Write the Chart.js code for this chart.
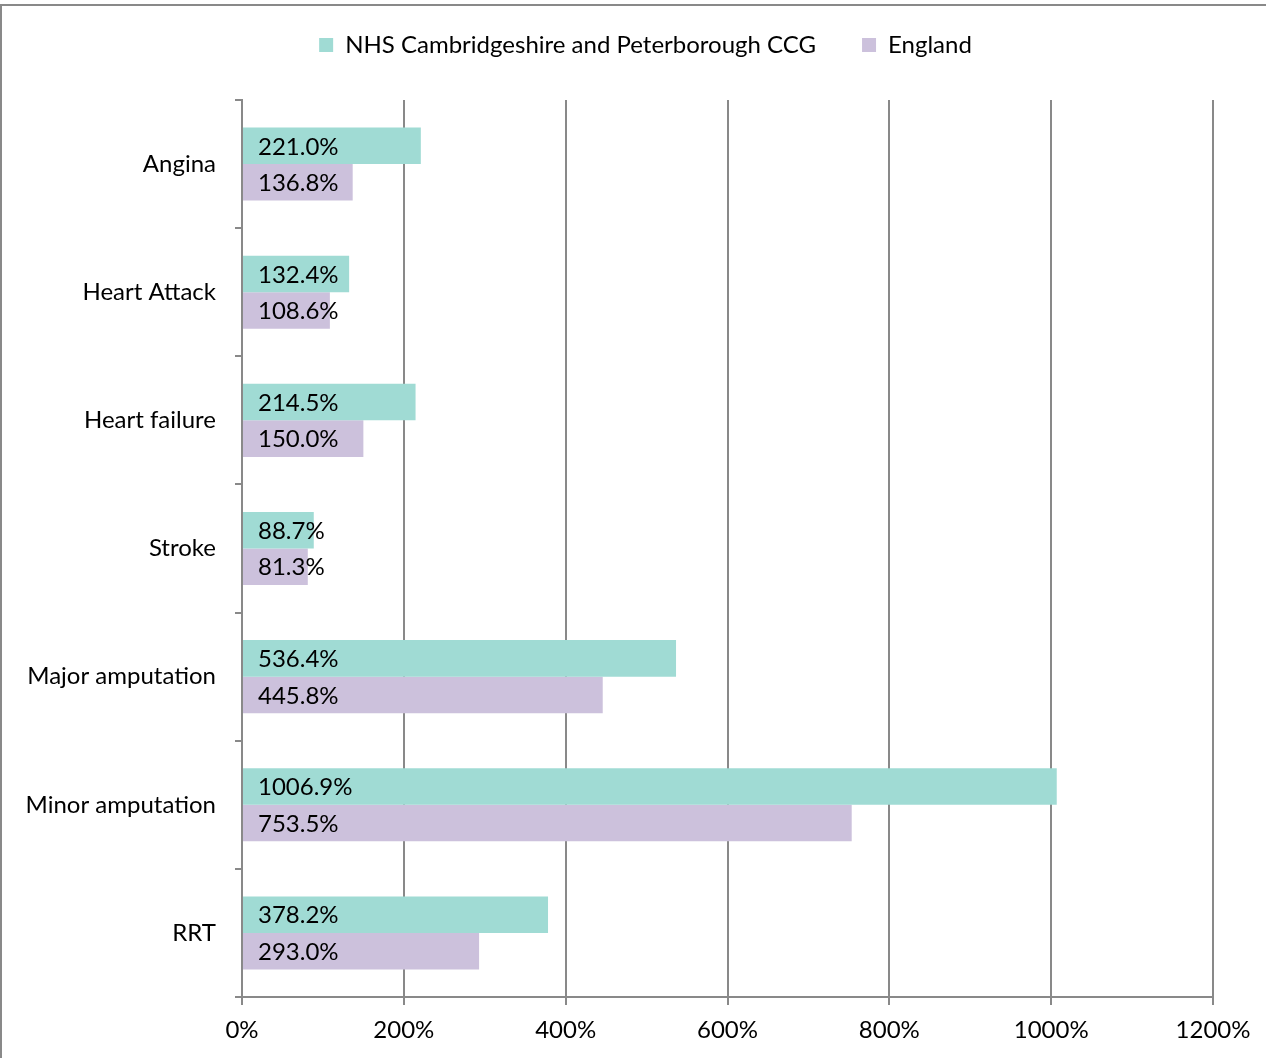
<!DOCTYPE html>
<html>
<head>
<meta charset="utf-8">
<script src="https://cdn.jsdelivr.net/npm/chart.js@4"></script>
<style>
  body { margin: 0; background: #fff; overflow: hidden; }
  #wrap { width: 1266px; height: 1058px; }
</style>
</head>
<body>
<div id="wrap"><canvas id="chart_canvas" width="1266" height="1058"></canvas></div>
<script>
// chart data
const categories = ['Angina', 'Heart Attack', 'Heart failure', 'Stroke', 'Major amputation', 'Minor amputation', 'RRT'];
const ccg_values = [221.0, 132.4, 214.5, 88.7, 536.4, 1006.9, 378.2];
const england_values = [136.8, 108.6, 150.0, 81.3, 445.8, 753.5, 293.0];
const series_names = ['NHS Cambridgeshire and Peterborough CCG', 'England'];

const font_family = 'Lato';
const grid_color = '#898989';

// frame round the chart (only top and left show in the picture)
const frame_plugin = {
    id: 'frame',
    beforeDraw(chart) {
        const ctx = chart.ctx;
        ctx.save();
        ctx.strokeStyle = grid_color;
        ctx.lineWidth = 2;
        ctx.strokeRect(1, 5, 1400, 1200);
        ctx.restore();
    }
};

// value labels near the base of each bar
const value_labels = {
    id: 'value_labels',
    afterDatasetsDraw(chart) {
        const ctx = chart.ctx;
        ctx.save();
        ctx.font = '24px ' + font_family;
        ctx.fillStyle = '#000';
        ctx.textBaseline = 'middle';
        ctx.textAlign = 'left';
        chart.data.datasets.forEach((ds, di) => {
            const meta = chart.getDatasetMeta(di);
            meta.data.forEach((bar, i) => {
                ctx.fillText(ds.data[i].toFixed(1) + '%', bar.base + 15, bar.y + 1);
            });
        });
        ctx.restore();
    }
};

// legend height fixed so the plot starts where it does in the picture,
// and the legend nudged right to sit where the original one is
const legend_fix = {
    id: 'legend_fix',
    beforeInit(chart) {
        const orig_fit = chart.legend.fit;
        chart.legend.fit = function () {
            orig_fit.call(this);
            this.height = 113;
        };
    },
    afterLayout(chart) {
        chart.legend.left += 39;
        chart.legend.right += 39;
    }
};

new Chart(document.getElementById('chart_canvas'), {
    type: 'bar',
    data: {
        labels: categories,
        datasets: [
            {
                label: series_names[0],
                data: ccg_values,
                backgroundColor: '#a0dbd4',
                borderWidth: 0
            },
            {
                label: series_names[1],
                data: england_values,
                backgroundColor: '#ccc1dc',
                borderWidth: 0
            }
        ]
    },
    options: {
        indexAxis: 'y',
        responsive: false,
        animation: false,
        devicePixelRatio: 1,
        categoryPercentage: 0.57,
        barPercentage: 1,
        layout: {padding: {top: -13, right: 53, left: 0, bottom: 0}},
        plugins: {
            legend: {
                position: 'top',
                labels: {
                    boxWidth: 14,
                    boxHeight: 14,
                    padding: 46,
                    color: '#000',
                    font: {family: font_family, size: 24}
                }
            },
            tooltip: {enabled: false}
        },
        scales: {
            x: {
                min: 0,
                max: 1200,
                ticks: {
                    stepSize: 200,
                    color: '#000',
                    padding: 11,
                    font: {family: font_family, size: 24},
                    callback: v => v + '%'
                },
                grid: {color: grid_color, lineWidth: 2, tickLength: 8},
                border: {color: grid_color, width: 2},
                afterFit(scale) { scale.height = 61; }
            },
            y: {
                ticks: {
                    color: '#000',
                    padding: 19,
                    font: {family: font_family, size: 24}
                },
                grid: {
                    color: grid_color,
                    lineWidth: 2,
                    drawOnChartArea: false,
                    tickLength: 7,
                    offset: true
                },
                border: {color: grid_color, width: 2},
                afterFit(scale) { scale.width = 242; }
            }
        }
    },
    plugins: [frame_plugin, value_labels, legend_fix]
});
</script>
</body>
</html>
